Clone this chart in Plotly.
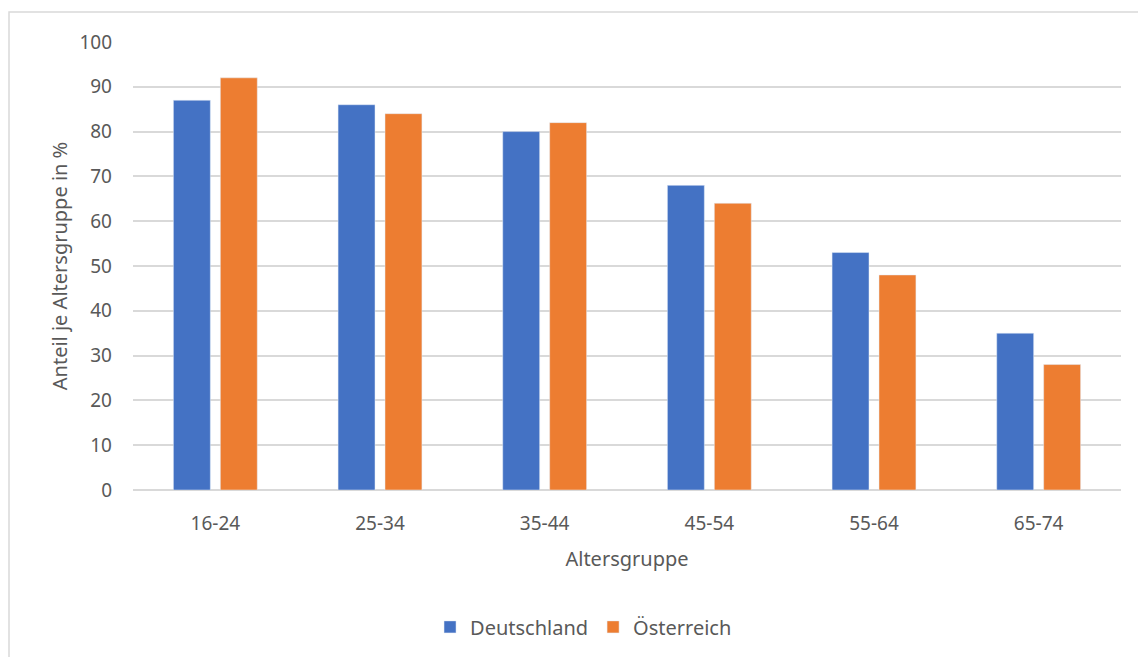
import plotly.graph_objects as go

# Altersgruppen und Anteile in %
altersgruppen = ["16-24", "25-34", "35-44", "45-54", "55-64", "65-74"]
deutschland = [87, 86, 80, 68, 53, 35]
oesterreich = [92, 84, 82, 64, 48, 28]

font_family = "Noto Sans, Open Sans, sans-serif"
text_color = "#595959"

fig = go.Figure()
fig.add_trace(go.Bar(x=altersgruppen, y=deutschland, name="Deutschland",
                     marker_color="#4472C4"))
fig.add_trace(go.Bar(x=altersgruppen, y=oesterreich, name="Österreich",
                     marker_color="#ED7D31"))

# page body adds 8px, so margins are shifted by that
fig.update_layout(
    width=1146, height=657,
    margin=dict(l=125, r=33, t=34, b=175),
    paper_bgcolor="white", plot_bgcolor="white",
    barmode="group", bargap=0.43, bargroupgap=0.213,
    font=dict(family=font_family, size=19, color=text_color),
    showlegend=True,
    legend=dict(orientation="h", x=0.456, xanchor="center", y=-0.262, yanchor="top",
                font=dict(size=20, color=text_color), itemwidth=30,
                traceorder="normal"),
    xaxis=dict(
        title=dict(text="Altersgruppe", font=dict(size=20), standoff=16),
        showline=False, ticks="", tickfont=dict(size=19), ticklabelstandoff=20,
    ),
    yaxis=dict(
        title=dict(text="Anteil je Altersgruppe in %", font=dict(size=20), standoff=6),
        range=[0, 100], dtick=10, showgrid=True,
        gridcolor="#d9d9d9", gridwidth=1.5,
        zeroline=True, zerolinecolor="#d9d9d9", zerolinewidth=1.5,
        ticks="", tickfont=dict(size=19), ticklabelstandoff=20,
    ),
)

# light frame round the chart area (top and left edge visible)
fig.add_shape(type="rect", xref="paper", yref="paper",
              x0=-0.1255, x1=1.1, y0=-0.45, y1=1.067,
              line=dict(color="#d9d9d9", width=1.5), layer="below")

fig.write_html("out.html")
